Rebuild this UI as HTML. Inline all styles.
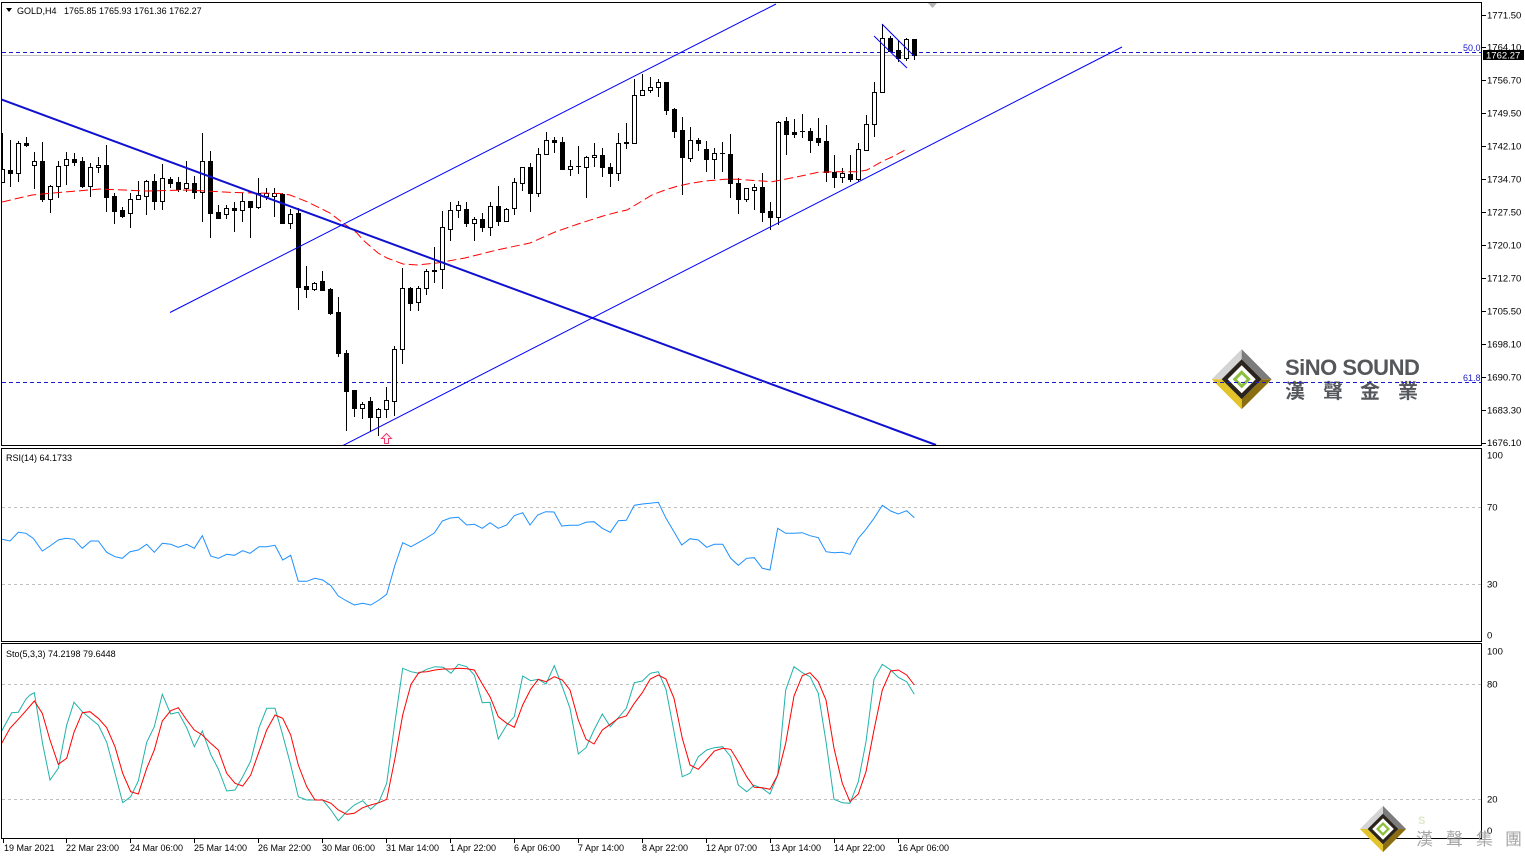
<!DOCTYPE html>
<html><head><meta charset="utf-8"><title>GOLD,H4</title>
<style>
html,body{margin:0;padding:0;background:#fff;}
svg{display:block;}
text{font-family:"Liberation Sans","Noto Sans CJK TC",sans-serif;}
</style></head>
<body>
<svg width="1525" height="857" viewBox="0 0 1525 857" xmlns="http://www.w3.org/2000/svg">
<defs>
<clipPath id="cm"><rect x="2" y="3" width="1479" height="442"/></clipPath>
<clipPath id="cr"><rect x="2" y="449" width="1479" height="192"/></clipPath>
<clipPath id="cs"><rect x="2" y="644" width="1479" height="194"/></clipPath>
<g id="lg">
<polygon points="-30,0 0,-30 0,-20 -20,0" fill="#d4d4d4"/>
<polygon points="0,-30 30,0 20,0 0,-20" fill="#7c7c7c"/>
<polygon points="30,0 0,30 0,20 20,0" fill="#8c6e12"/>
<polygon points="0,30 -30,0 -20,0 0,20" fill="#e2c42a"/>
<polygon points="0,-20 20,0 0,20 -20,0" fill="#2b241c"/>
<polygon points="0,-14 14,0 0,14 -14,0" fill="#ffffff"/>
<polygon points="0,-7 7,0 0,7 -7,0" fill="#ffffff" stroke="#8cbf3f" stroke-width="3"/>
</g>
</defs>
<rect width="1525" height="857" fill="#fff"/>

<!-- logos -->
<use href="#lg" transform="translate(1241.7 379.3)"/>
<text x="1285" y="375" font-size="22" font-weight="bold" fill="#55575b" letter-spacing="-0.5">SiNO SOUND</text>
<g font-size="20" fill="#55575b" font-weight="bold" style="font-family:'Noto Sans CJK TC','Noto Sans CJK SC',sans-serif">
<text x="1285" y="398">漢</text><text x="1323" y="398">聲</text><text x="1360" y="398">金</text><text x="1398" y="398">業</text>
</g>

<!-- main panel -->
<g clip-path="url(#cm)">
<line x1="2" y1="55.5" x2="1481" y2="55.5" stroke="#c0c0c0" stroke-width="1"/>
<line x1="2" y1="52.5" x2="1481" y2="52.5" stroke="#1a1acd" stroke-width="1" stroke-dasharray="4 3"/>
<line x1="2" y1="382.5" x2="1481" y2="382.5" stroke="#1a1acd" stroke-width="1" stroke-dasharray="4 3"/>

<g shape-rendering="crispEdges">
<path fill="none" stroke="#000" stroke-width="1" d="M2.5 133V183M10.5 140V187M18.5 141V182M26.5 137V147M34.5 152V189M42.5 142V202M50.5 185V213M58.5 161V198M66.5 152V185M74.5 153V166M82.5 157V188M90.5 163V197M98.5 157V173M106.5 145V212M114.5 193V224M122.5 207V218M130.5 193V228M138.5 181V199M146.5 180V215M154.5 174V210M162.5 164V210M170.5 177V188M178.5 177V192M186.5 161V192M194.5 176V199M202.5 133V222M210.5 151V238M218.5 205V219M226.5 205V219M234.5 202V232M242.5 193V222M250.5 201V238M258.5 178V209M266.5 188V200M274.5 188V217M282.5 193V223M290.5 209V229M298.5 208V310M306.5 266V298M314.5 282V291M322.5 271V290M330.5 288V315M338.5 297V357M346.5 350V431M354.5 390V417M362.5 402V419M370.5 397V432M378.5 408V436M386.5 387V418M394.5 346V416M402.5 268V364M410.5 287V311M418.5 286V311M426.5 269V295M434.5 247V283M442.5 211V289M450.5 202V241M458.5 201V218M466.5 202V227M474.5 217V241M482.5 213V232M490.5 202V236M498.5 186V226M506.5 208V221M514.5 178V215M522.5 167V191M530.5 163V212M538.5 148V197M546.5 132V154M554.5 137V153M562.5 137V169M570.5 160V176M578.5 146V174M586.5 156V198M594.5 143V167M602.5 148V177M610.5 163V187M618.5 133V181M626.5 123V149M634.5 79V143M642.5 74V96M650.5 77V93M658.5 79V97M666.5 82V115M674.5 108V138M682.5 117V195M690.5 127V162M698.5 138V151M706.5 141V172M714.5 148V179M722.5 142V172M730.5 134V198M738.5 178V214M746.5 188V202M754.5 184V210M762.5 173V222M770.5 202V230M778.5 121V225M786.5 117V155M794.5 119V138M802.5 114V138M810.5 128V153M818.5 118V146M826.5 125V182M834.5 155V188M842.5 168V183M850.5 155V182M858.5 143V182M866.5 115V151M874.5 82V137M882.5 24V92M890.5 36V52M898.5 40V62M906.5 38V61M914.5 39V60"/>
<g fill="#fff" stroke="#000" stroke-width="1">
<rect x="0.5" y="169.5" width="4" height="13"/>
<rect x="16.5" y="143.5" width="4" height="30"/>
<rect x="32.5" y="161.5" width="4" height="4"/>
<rect x="48.5" y="186.5" width="4" height="13"/>
<rect x="56.5" y="166.5" width="4" height="20"/>
<rect x="64.5" y="159.5" width="4" height="6"/>
<rect x="88.5" y="167.5" width="4" height="19"/>
<rect x="96.5" y="165.5" width="4" height="2"/>
<rect x="128.5" y="199.5" width="4" height="14"/>
<rect x="136.5" y="195.5" width="4" height="4"/>
<rect x="144.5" y="181.5" width="4" height="15"/>
<rect x="160.5" y="178.5" width="4" height="23"/>
<rect x="184.5" y="183.5" width="4" height="5"/>
<rect x="200.5" y="161.5" width="4" height="31"/>
<rect x="224.5" y="208.5" width="4" height="6"/>
<rect x="240.5" y="201.5" width="4" height="9"/>
<rect x="256.5" y="193.5" width="4" height="14"/>
<rect x="264.5" y="193.5" width="4" height="3"/>
<rect x="272.5" y="193.5" width="4" height="3"/>
<rect x="288.5" y="214.5" width="4" height="9"/>
<rect x="312.5" y="283.5" width="4" height="6"/>
<rect x="360.5" y="404.5" width="4" height="4"/>
<rect x="376.5" y="409.5" width="4" height="8"/>
<rect x="384.5" y="400.5" width="4" height="9"/>
<rect x="392.5" y="349.5" width="4" height="52"/>
<rect x="400.5" y="288.5" width="4" height="61"/>
<rect x="416.5" y="288.5" width="4" height="14"/>
<rect x="424.5" y="271.5" width="4" height="17"/>
<rect x="440.5" y="227.5" width="4" height="42"/>
<rect x="448.5" y="210.5" width="4" height="19"/>
<rect x="456.5" y="205.5" width="4" height="5"/>
<rect x="472.5" y="219.5" width="4" height="4"/>
<rect x="488.5" y="206.5" width="4" height="21"/>
<rect x="504.5" y="209.5" width="4" height="12"/>
<rect x="512.5" y="182.5" width="4" height="26"/>
<rect x="520.5" y="167.5" width="4" height="16"/>
<rect x="536.5" y="154.5" width="4" height="39"/>
<rect x="544.5" y="140.5" width="4" height="14"/>
<rect x="568.5" y="166.5" width="4" height="3"/>
<rect x="584.5" y="157.5" width="4" height="10"/>
<rect x="592.5" y="155.5" width="4" height="2"/>
<rect x="616.5" y="143.5" width="4" height="30"/>
<rect x="632.5" y="95.5" width="4" height="48"/>
<rect x="640.5" y="90.5" width="4" height="5"/>
<rect x="648.5" y="87.5" width="4" height="3"/>
<rect x="656.5" y="82.5" width="4" height="5"/>
<rect x="688.5" y="140.5" width="4" height="18"/>
<rect x="712.5" y="153.5" width="4" height="6"/>
<rect x="744.5" y="188.5" width="4" height="11"/>
<rect x="752.5" y="187.5" width="4" height="3"/>
<rect x="776.5" y="122.5" width="4" height="95"/>
<rect x="840.5" y="173.5" width="4" height="4"/>
<rect x="856.5" y="149.5" width="4" height="30"/>
<rect x="864.5" y="124.5" width="4" height="26"/>
<rect x="872.5" y="92.5" width="4" height="32"/>
<rect x="880.5" y="38.5" width="4" height="54"/>
<rect x="904.5" y="39.5" width="4" height="19"/>
</g>
<g fill="#000" stroke="#000" stroke-width="1">
<rect x="8.5" y="170.5" width="4" height="3"/>
<rect x="24.5" y="143.5" width="4" height="2"/>
<rect x="40.5" y="161.5" width="4" height="38"/>
<rect x="72.5" y="159.5" width="4" height="3"/>
<rect x="80.5" y="161.5" width="4" height="25"/>
<rect x="104.5" y="165.5" width="4" height="32"/>
<rect x="112.5" y="196.5" width="4" height="15"/>
<rect x="120.5" y="210.5" width="4" height="6"/>
<rect x="152.5" y="181.5" width="4" height="20"/>
<rect x="168.5" y="179.5" width="4" height="4"/>
<rect x="176.5" y="182.5" width="4" height="7"/>
<rect x="192.5" y="183.5" width="4" height="9"/>
<rect x="208.5" y="161.5" width="4" height="52"/>
<rect x="216.5" y="212.5" width="4" height="6"/>
<rect x="232.5" y="208.5" width="4" height="2"/>
<rect x="248.5" y="201.5" width="4" height="6"/>
<rect x="280.5" y="194.5" width="4" height="29"/>
<rect x="296.5" y="213.5" width="4" height="74"/>
<rect x="304.5" y="286.5" width="4" height="3"/>
<rect x="320.5" y="281.5" width="4" height="9"/>
<rect x="328.5" y="289.5" width="4" height="24"/>
<rect x="336.5" y="312.5" width="4" height="41"/>
<rect x="344.5" y="353.5" width="4" height="38"/>
<rect x="352.5" y="390.5" width="4" height="18"/>
<rect x="368.5" y="401.5" width="4" height="16"/>
<rect x="408.5" y="288.5" width="4" height="15"/>
<rect x="432.5" y="270.5" width="4" height="1"/>
<rect x="464.5" y="209.5" width="4" height="14"/>
<rect x="480.5" y="219.5" width="4" height="8"/>
<rect x="496.5" y="206.5" width="4" height="15"/>
<rect x="528.5" y="167.5" width="4" height="26"/>
<rect x="552.5" y="140.5" width="4" height="2"/>
<rect x="560.5" y="142.5" width="4" height="27"/>
<rect x="600.5" y="155.5" width="4" height="12"/>
<rect x="608.5" y="167.5" width="4" height="6"/>
<rect x="624.5" y="142.5" width="4" height="1"/>
<rect x="664.5" y="82.5" width="4" height="28"/>
<rect x="672.5" y="109.5" width="4" height="22"/>
<rect x="680.5" y="130.5" width="4" height="27"/>
<rect x="696.5" y="140.5" width="4" height="3"/>
<rect x="704.5" y="149.5" width="4" height="10"/>
<rect x="728.5" y="154.5" width="4" height="29"/>
<rect x="736.5" y="183.5" width="4" height="16"/>
<rect x="760.5" y="187.5" width="4" height="25"/>
<rect x="768.5" y="211.5" width="4" height="6"/>
<rect x="784.5" y="121.5" width="4" height="13"/>
<rect x="792.5" y="132.5" width="4" height="2"/>
<rect x="808.5" y="131.5" width="4" height="9"/>
<rect x="816.5" y="138.5" width="4" height="4"/>
<rect x="824.5" y="141.5" width="4" height="31"/>
<rect x="832.5" y="172.5" width="4" height="5"/>
<rect x="848.5" y="174.5" width="4" height="5"/>
<rect x="888.5" y="38.5" width="4" height="13"/>
<rect x="896.5" y="50.5" width="4" height="8"/>
<rect x="912.5" y="39.5" width="4" height="16"/>
</g>
<path d="M576 166.5h5M720 153.5h5M800 131.5h5" stroke="#000" stroke-width="1"/>
</g>

<polyline fill="none" stroke="#ff0000" stroke-width="1" stroke-dasharray="9 4" points="2,202 32,195 53,193 77,191 100,189 147,191 187,190 233,192.5 280,193.5 290,195 307,201.7 330,213 343,223 357,233 363,240 378,253 387,258 403,264 417,265 437,263 465,258 497,250 530,243 555,232 578,224 603,216 618,212 627,210 642,201 652,195 665,190 678,186 690,183.5 705,181 725,179.3 738,179.3 762,181 772,181.7 795,177.3 818,172.3 835,171.7 858,171.7 867,170 883,161 892,157 907,149"/>

<line x1="0" y1="99" x2="936" y2="445" stroke="#1010d0" stroke-width="2"/>
<line x1="170" y1="312.5" x2="776" y2="4" stroke="#0000ff" stroke-width="1"/>
<line x1="342" y1="446" x2="1122" y2="47" stroke="#0000ff" stroke-width="1"/>
<line x1="874" y1="36" x2="907" y2="68" stroke="#0000ff" stroke-width="1"/>
<line x1="882" y1="24" x2="914" y2="56" stroke="#0000ff" stroke-width="1"/>
<polygon points="386.5,433.5 391.5,438.5 388.5,438.5 388.5,443.5 384.5,443.5 384.5,438.5 381.5,438.5" fill="#fff0f5" stroke="#f04070" stroke-width="1"/>
<polygon points="928,3 937,3 932.5,8" fill="#b4b4b4"/>
</g>

<text x="1463" y="51" font-size="9" fill="#1a1acd">50.0</text>
<text x="1463" y="381" font-size="9" fill="#1a1acd">61.8</text>

<!-- header -->
<polygon points="6,8 12,8 9,12" fill="#000"/>
<text x="17" y="14" font-size="9" fill="#000">GOLD,H4</text>
<text x="64" y="14" font-size="9" fill="#000">1765.85 1765.93 1761.36 1762.27</text>

<!-- RSI panel -->
<g clip-path="url(#cr)">
<line x1="2" y1="507.5" x2="1481" y2="507.5" stroke="#c0c0c0" stroke-dasharray="3 3"/>
<line x1="2" y1="584.5" x2="1481" y2="584.5" stroke="#c0c0c0" stroke-dasharray="3 3"/>
<polyline fill="none" stroke="#1e90ff" stroke-width="1" points="2,539.3 10,541 18.3,532.3 26,533.3 33.3,538.3 42.3,551 50,546 58.3,540 66,538.3 74,539.3 82.3,548.3 90.7,541 98.3,541 106.7,552.3 115,556.7 122.3,558.3 130,551.7 138.3,550 146.7,544.3 154.3,552.3 162.3,543.3 170.7,544.3 178.3,547.3 186.7,544.3 194.3,548.3 202.3,535.7 210.7,556 218.3,558.3 226.7,554.3 234.3,555.3 242.7,550.7 250,553.3 259,546.7 266.7,546.7 275,545.3 282.7,560 290.7,555.3 298.3,581.3 306.7,581.3 315,578.3 322.7,580 331,585.7 338.3,596 346.7,601 354.3,605 362.7,603.3 370.7,605 379,600 386.7,594.3 395,565 402.7,542.7 411,546.7 420,541.7 426.3,538 434.3,533 442.3,521 450.3,518 458.3,517.3 466.7,525 474.3,524.3 482.3,528.3 490,522.7 498.3,528.3 506.7,525 514.3,515.7 522.7,512.7 530,525 537.7,515 545.7,511.7 554,512 561.7,526 570,525.3 578.3,525.3 586,522.3 594,521.7 602.3,528.3 610.3,532.3 618.3,520.7 626.3,520.3 634.3,505.3 642.3,504 650,503.3 658.3,502.3 666,518.3 674,531.7 681.7,545 690,538.7 698.3,540 706.7,547.3 714.3,544.3 722.7,544.3 730.7,558.3 738.3,565.3 746.7,558.3 754.3,557.7 762.3,568.3 770,570 777.7,528.3 785.7,533.3 794,533.3 802.3,532.7 810,535.7 818.3,537.7 826,551.7 834,552.7 842.3,552.3 850,554.3 858.3,538.3 866,529.3 874,518.3 882.3,505.3 890.7,511 898.3,514 906.7,510.7 914.3,517.7"/>
</g>
<text x="6" y="461" font-size="9" fill="#000">RSI(14) 64.1733</text>

<!-- Sto panel -->
<g clip-path="url(#cs)">
<line x1="2" y1="684.5" x2="1481" y2="684.5" stroke="#c0c0c0" stroke-dasharray="3 3"/>
<line x1="2" y1="799.5" x2="1481" y2="799.5" stroke="#c0c0c0" stroke-dasharray="3 3"/>
<polyline fill="none" stroke="#20b2aa" stroke-width="1" points="1.7,731 11.7,712.7 18.3,712.3 26,699 30,695 34.3,692.7 42.7,744.3 50,780 58.3,768.3 66.7,725 74,702.3 82.3,711.7 90,718.3 98.3,725 106.7,742.3 115,773.3 122.7,802.7 130.7,796.7 138.3,781 146.7,742.3 154.3,726.7 162.3,694.3 170.7,714 178.3,712.3 186.7,727.7 194.3,746.7 202.3,731 210.7,754.3 218.3,769 226.7,791 235,790 242.7,776.7 250.7,761 259,727.7 266.7,708.3 275,708.3 282.7,735 290.7,765 298.3,796.7 306.7,800 315,800 322.7,800 331,810 338.3,820.7 346.7,811.7 354.3,805 362.7,800.7 370.7,809.3 379,801.7 386.7,783.3 395,721.7 402.7,668.3 411,671.7 419,673.3 426.7,669.3 435,666.7 443.3,667.3 451,673.3 458.3,664.3 466.7,666.7 474.3,675 482.3,702.7 490,702.3 498.3,739 506.7,725 514.3,716.7 522.7,676 530.7,680.7 538.3,679.3 546,684 554.3,665.7 562.3,686.7 570,708.3 578.3,754 586,747.7 594,730 602.3,714 610.3,726.7 618.3,717.7 626.3,708.3 634.3,682.7 642.3,681 650.3,673.3 658.3,671.7 666,689.3 674,731.7 682.3,776.7 690,773.3 698.3,756.7 706.7,750 714.3,747.7 722.7,746.7 730.7,756.7 738.3,785 746.7,791.7 754.3,785.3 762.3,788.3 770,794 777.7,775 785.7,690 794,666.7 802.3,672.7 810,676.7 818.3,693.3 826,741.7 834,799.3 842.3,802.7 850,803.3 858.3,781.7 866,741.7 874,679.3 882.3,664.3 890.7,670 898.3,677.3 906.7,681.7 914.3,694.3"/>
<polyline fill="none" stroke="#ff0000" stroke-width="1" points="1.7,743.3 10,728.3 18.3,719.3 26,710.7 34.3,701 42.3,713.3 50,740 58.3,764.3 66.7,758.3 74,732.3 82.3,712.7 90,711.7 98.3,718.3 106.7,727.7 115,746.7 122.7,773.3 130.7,791.7 138.3,794 146.7,768.3 154.3,750 162.3,721 170.7,710.7 178.3,707.7 186.7,720 194.3,730 202.3,735 210.7,743.3 218.3,750 226.7,773.3 235,783.3 242.7,786 250.7,775 259,751.7 266.7,730 275,715 282.7,718.3 290.7,735 298.3,765 306.7,786.7 315,800 322.7,800 331,803.3 338.3,810 346.7,814.3 354.3,813.3 362.7,807.7 370.7,805 379,802.7 386.7,799.3 395,758.3 402.7,715 411,684.3 419,672.3 426.7,671.7 435,670 443.3,669 451,669 459.3,668.3 466.7,668.7 474.3,670 482.3,684 490,696.7 498.3,716.7 506.7,723.3 514.3,727.3 522.7,705 530.7,689.3 538.3,679.3 546,681.7 554.3,676.7 562.3,680 570,690 578.3,720 586,739.3 594,744 602.3,730 610.3,724.3 618.3,718.3 626.3,716 634.3,703.3 642.3,692.7 650.3,679 658.3,675 666,679 674,698.3 682.3,738.3 690,765 698.3,769.3 706.7,760 714.3,751 722.7,748.3 730.7,749.3 738.3,761.7 746.7,776.7 754.3,787.3 762.3,787.7 770,789.3 777.7,775 785.7,743.3 794,696 802.3,675.7 810,672.7 818.3,681.7 826,700 834,748.3 842.3,783.3 850,801.7 858.3,794 866,771.7 874,730 882.3,690 890.7,671 898.3,670 906.7,675 914.3,685"/>
</g>
<text x="6" y="657" font-size="9" fill="#000">Sto(5,3,3) 74.2198 79.6448</text>

<!-- frames -->
<g fill="none" stroke="#000" stroke-width="1" shape-rendering="crispEdges">
<rect x="1.5" y="2.5" width="1480" height="443"/>
<rect x="1.5" y="448.5" width="1480" height="193"/>
<rect x="1.5" y="643.5" width="1480" height="195"/>
</g>

<!-- price axis -->
<g stroke="#000" stroke-width="1" shape-rendering="crispEdges">
<path d="M1482 15.5h4M1482 47.5h4M1482 80.5h4M1482 113.5h4M1482 146.5h4M1482 179.5h4M1482 212.5h4M1482 245.5h4M1482 278.5h4M1482 311.5h4M1482 344.5h4M1482 377.5h4M1482 410.5h4M1482 443.5h4"/>
<path d="M3.5 839v4M66.5 839v4M130.5 839v4M194.5 839v4M258.5 839v4M322.5 839v4M386.5 839v4M450.5 839v4M514.5 839v4M578.5 839v4M642.5 839v4M706.5 839v4M770.5 839v4M834.5 839v4M898.5 839v4"/>
</g>
<g font-size="9.5" fill="#000">
<text x="1487" y="18.5">1771.50</text>
<text x="1487" y="50.5">1764.10</text>
<text x="1487" y="83.5">1756.70</text>
<text x="1487" y="116.5">1749.50</text>
<text x="1487" y="149.5">1742.10</text>
<text x="1487" y="182.5">1734.70</text>
<text x="1487" y="215.5">1727.50</text>
<text x="1487" y="248.5">1720.10</text>
<text x="1487" y="281.5">1712.70</text>
<text x="1487" y="314.5">1705.50</text>
<text x="1487" y="347.5">1698.10</text>
<text x="1487" y="380.5">1690.70</text>
<text x="1487" y="413.5">1683.30</text>
<text x="1487" y="446">1676.10</text>
<text x="1487" y="458.5">100</text>
<text x="1487" y="510.5">70</text>
<text x="1487" y="587.5">30</text>
<text x="1487" y="638.5">0</text>
<text x="1487" y="654.5">100</text>
<text x="1487" y="687.5">80</text>
<text x="1487" y="802.5">20</text>
<text x="1487" y="834">0</text>
</g>
<rect x="1483" y="50" width="41" height="10" fill="#000"/>
<text x="1486" y="58.5" font-size="9.5" fill="#fff">1762.27</text>

<!-- time axis -->
<g font-size="9" fill="#000">
<text x="4" y="851">19 Mar 2021</text>
<text x="66" y="851">22 Mar 23:00</text>
<text x="130" y="851">24 Mar 06:00</text>
<text x="194" y="851">25 Mar 14:00</text>
<text x="258" y="851">26 Mar 22:00</text>
<text x="322" y="851">30 Mar 06:00</text>
<text x="386" y="851">31 Mar 14:00</text>
<text x="450" y="851">1 Apr 22:00</text>
<text x="514" y="851">6 Apr 06:00</text>
<text x="578" y="851">7 Apr 14:00</text>
<text x="642" y="851">8 Apr 22:00</text>
<text x="706" y="851">12 Apr 07:00</text>
<text x="770" y="851">13 Apr 14:00</text>
<text x="834" y="851">14 Apr 22:00</text>
<text x="898" y="851">16 Apr 06:00</text>
</g>

<!-- bottom logo -->
<use href="#lg" transform="translate(1383 829) scale(0.77)"/>
<text x="1418" y="824" font-size="11" fill="#dfe8c8" font-weight="bold">S</text>
<g font-size="17" fill="#a6a6a6" style="font-family:'Noto Sans CJK TC','Noto Sans CJK SC',sans-serif">
<text x="1416" y="845">漢</text><text x="1446" y="845">聲</text><text x="1476" y="845">集</text><text x="1505" y="845">團</text>
</g>
</svg>
</body></html>
